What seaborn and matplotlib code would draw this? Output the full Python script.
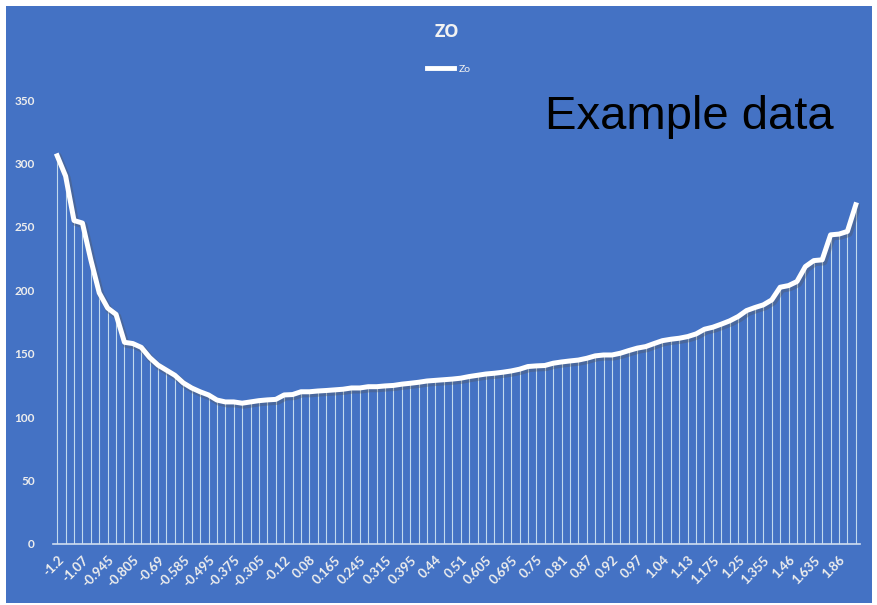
import matplotlib
matplotlib.use("Agg")
import matplotlib.pyplot as plt
import matplotlib.patheffects as pe
from matplotlib.patches import Rectangle
from matplotlib.lines import Line2D
import seaborn as sns
import pandas as pd
import numpy as np

# ---- data ----
zo_values = [
    306, 290, 255, 253, 224, 198, 186, 181, 159, 158, 155, 147, 141, 137, 133, 127,
    123, 120, 117.5, 113.5, 112, 112, 111, 112, 113, 113.6, 114, 117.5, 117.8, 120,
    120, 120.6, 121, 121.5, 122, 123, 123, 124, 124, 124.6, 125, 126, 126.7, 127.5,
    128.5, 129, 129.5, 130, 130.7, 132, 133, 134, 134.6, 135.4, 136.4, 137.8, 139.9,
    140.4, 140.7, 142.5, 143.5, 144.3, 145, 146.4, 148.3, 149, 149, 150.4, 152.5,
    154.4, 155.6, 158, 160.3, 161.4, 162.2, 163.5, 165.6, 169.3, 170.9, 173.3, 175.9,
    179.3, 184, 186.4, 188.5, 192.4, 202.4, 203.7, 206.9, 218.7, 223.4, 224, 243.7,
    244.3, 246.4, 267.4,
]
tick_labels = [
    "-1.2", "-1.07", "-0.945", "-0.805", "-0.69", "-0.585", "-0.495", "-0.375",
    "-0.305", "-0.12", "0.08", "0.165", "0.245", "0.315", "0.395", "0.44", "0.51",
    "0.605", "0.695", "0.75", "0.81", "0.87", "0.92", "0.97", "1.04", "1.13",
    "1.175", "1.25", "1.355", "1.46", "1.635", "1.86",
]
label_step = 3
y_ticks = [0, 50, 100, 150, 200, 250, 300, 350]

df = pd.DataFrame({"idx": np.arange(len(zo_values)), "Zo": zo_values})

BLUE = "#4472C4"
W, H = 877, 605
fig = plt.figure(figsize=(W / 100, H / 100), dpi=100, facecolor="white")
fig.patches.append(Rectangle((6 / W, 2 / H), (872 - 6) / W, (599 - 2) / H,
                             transform=fig.transFigure, facecolor=BLUE,
                             edgecolor="none", zorder=-10))

ax = fig.add_axes([53 / W, 1 - 544 / H, (860 - 53) / W, (544 - 100) / H])
ax.set_facecolor("none")
ax.set_zorder(5)

# drop lines
ax.vlines(df["idx"], 0, df["Zo"], colors="#D8ECF6", linewidth=0.8, alpha=0.85, zorder=2)

sns.lineplot(data=df, x="idx", y="Zo", ax=ax, color="white", linewidth=3.6,
             zorder=4, legend=False,
             path_effects=[pe.SimpleLineShadow(offset=(1.2, -1.5), shadow_color="#555555",
                                               alpha=0.35, linewidth=5),
                           pe.Normal()])

ax.set_xlim(-0.5, len(zo_values) - 0.5)
ax.set_ylim(0, 350)
ax.set_yticks(y_ticks)
ax.set_yticklabels([str(v) for v in y_ticks])
pos = np.arange(0, len(tick_labels) * label_step, label_step)
ax.set_xticks(pos)
ax.set_xticklabels(tick_labels, rotation=45, ha="right", rotation_mode="anchor")
ax.tick_params(axis="both", length=0, colors="#EDEDED")
ax.tick_params(axis="y", pad=13, labelsize=8.5)
ax.tick_params(axis="x", pad=7, labelsize=9.5)
for t in ax.get_xticklabels() + ax.get_yticklabels():
    t.set_family(["Lato", "DejaVu Sans"])
    t.set_fontweight("bold")
for s in ["top", "right", "left"]:
    ax.spines[s].set_visible(False)
ax.spines["bottom"].set_color("#D0DDF0")
ax.spines["bottom"].set_linewidth(1.2)
ax.set_xlabel("")
ax.set_ylabel("")
ax.grid(False)

fig.text(447 / W, 1 - 32 / H, "ZO", ha="center", va="center", color="#F2F2F2",
         fontsize=13, fontweight="bold", family=["Open Sans", "DejaVu Sans"])

handle = Line2D([], [], color="white", linewidth=3.5)
fig.legend([handle], ["Zo"], loc="center", bbox_to_anchor=(449 / W, 1 - 69 / H),
           frameon=False, handlelength=2.6, handletextpad=0.5,
           labelcolor="#F2F2F2", prop={"family": ["Lato", "DejaVu Sans"], "size": 7.5})

fig.text(545 / W, 1 - 117 / H, "Example data", ha="left", va="center", color="black",
         fontsize=34, family=["Liberation Sans", "DejaVu Sans"])

fig.savefig("out.png", dpi=100, facecolor="white")
